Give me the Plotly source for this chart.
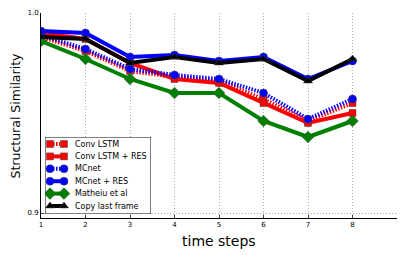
import plotly.graph_objects as go

steps = [1, 2, 3, 4, 5, 6, 7, 8]
conv_lstm = [0.988, 0.981, 0.971, 0.968, 0.966, 0.957, 0.946, 0.955]
conv_lstm_res = [0.990, 0.987, 0.975, 0.967, 0.965, 0.955, 0.945, 0.950]
mcnet = [0.989, 0.982, 0.972, 0.969, 0.967, 0.960, 0.947, 0.957]
mcnet_res = [0.991, 0.990, 0.978, 0.979, 0.976, 0.978, 0.967, 0.976]
matheiu = [0.986, 0.977, 0.967, 0.960, 0.960, 0.946, 0.938, 0.946]
copy_last = [0.988, 0.987, 0.975, 0.978, 0.975, 0.977, 0.966, 0.977]

series = [
    ("Conv LSTM", conv_lstm, "red", "1.5px,1.5px", "square", 7),
    ("Conv LSTM + RES", conv_lstm_res, "red", "solid", "square", 7),
    ("MCnet", mcnet, "blue", "1.5px,1.5px", "circle", 8),
    ("MCnet + RES", mcnet_res, "blue", "solid", "circle", 8),
    ("Matheiu et al", matheiu, "green", "solid", "diamond", 9),
    ("Copy last frame", copy_last, "black", "solid", "triangle-up", 8),
]

# page has an 8px body margin; compensate so the plot lands where the reference has it
W, H = 399, 247
ML, MR, MT, MB = 33, 10, 5, 37

fig = go.Figure()

for name, y, color, dash, symbol, size in series:
    fig.add_trace(go.Scatter(
        x=steps, y=y, name=name, mode="lines+markers", showlegend=False,
        line=dict(color=color, width=4, dash=dash),
        marker=dict(symbol=symbol, size=size, color=color,
                    line=dict(color="#444", width=0.5)),
    ))

# custom compact legend (matplotlib style) on its own small axes
LEG_W, LEG_H = 106, 77
row_h = 12.4
fig.add_trace(go.Scatter(
    x=[0, LEG_W, LEG_W, 0, 0], y=[0, 0, LEG_H, LEG_H, 0], mode="lines",
    fill="toself", fillcolor="white", line=dict(color="black", width=1),
    xaxis="x2", yaxis="y2", hoverinfo="skip", showlegend=False,
))
for i, (name, y, color, dash, symbol, size) in enumerate(series):
    ry = 7 + row_h * i
    fig.add_trace(go.Scatter(
        x=[5, 19], y=[ry, ry], mode="lines+markers", showlegend=False,
        xaxis="x2", yaxis="y2", hoverinfo="skip",
        line=dict(color=color, width=4, dash=dash),
        marker=dict(symbol=symbol, size=size, color=color,
                    line=dict(color="#444", width=0.5)),
    ))
    fig.add_annotation(x=28, y=ry, xref="x2", yref="y2", text=name,
                       showarrow=False, xanchor="left", yanchor="middle",
                       font=dict(size=8, color="black"))

plot_w = W - ML - MR
plot_h = H - MT - MB
lx0 = 4 / plot_w
ly0 = 4 / plot_h

fig.add_annotation(text="time steps", xref="paper", yref="paper", x=0.5, y=0,
                   xanchor="center", yanchor="top", yshift=-13, showarrow=False,
                   font=dict(size=14, color="black"))
fig.add_annotation(text="Structural Similarity", xref="paper", yref="paper", x=0, y=0.5,
                   xanchor="center", yanchor="middle", xshift=-26, textangle=-90,
                   showarrow=False, font=dict(size=12.5, color="black"))

fig.update_layout(
    width=W, height=H,
    margin=dict(l=ML, r=MR, t=MT, b=MB),
    plot_bgcolor="white", paper_bgcolor="white",
    font=dict(family="DejaVu Sans", color="black", size=7),
    showlegend=False,
    xaxis=dict(range=[1, 9], tickvals=steps, showline=True, linecolor="black",
               linewidth=1, ticks="inside", ticklen=3, showgrid=True,
               gridcolor="#aaa", griddash="1px,2px", gridwidth=1, zeroline=False,
               automargin=False, tickfont=dict(size=7)),
    yaxis=dict(range=[0.8975, 1.0], tickvals=[0.9, 1.0], ticktext=["0.9", "1.0"],
               showline=True, linecolor="black", linewidth=1, ticks="inside",
               ticklen=3, showgrid=True, gridcolor="#aaa", griddash="1px,2px",
               gridwidth=1, zeroline=False, automargin=False,
               tickfont=dict(size=7)),
    xaxis2=dict(domain=[lx0, lx0 + LEG_W / plot_w], range=[0, LEG_W], visible=False,
                anchor="y2", fixedrange=True),
    yaxis2=dict(domain=[ly0, ly0 + LEG_H / plot_h], range=[LEG_H, 0], visible=False,
                anchor="x2", fixedrange=True),
)

fig.write_html("out.html")
